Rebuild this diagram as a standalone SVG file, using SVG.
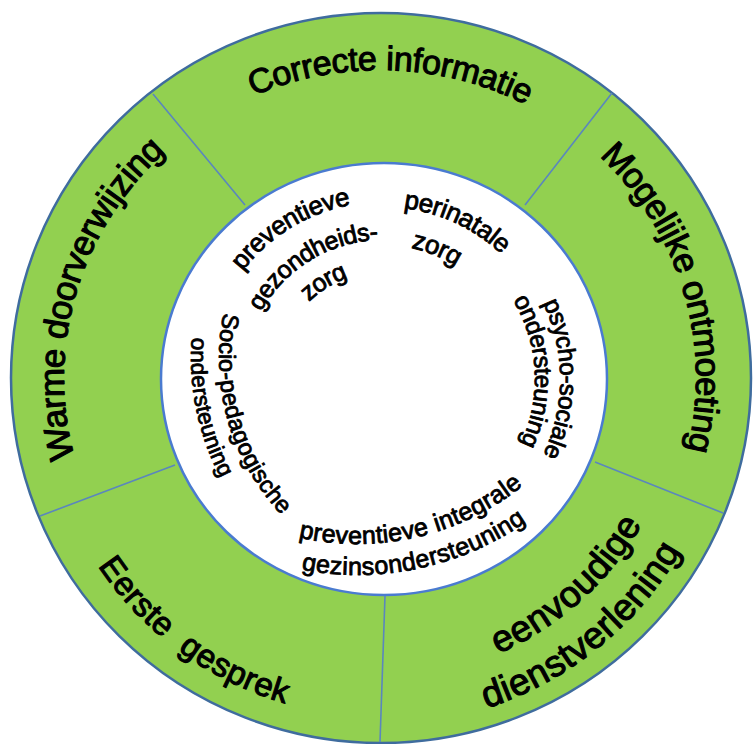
<svg xmlns="http://www.w3.org/2000/svg" xmlns:xlink="http://www.w3.org/1999/xlink" width="753" height="744" viewBox="0 0 753 744">
<style>
.lbl{font-family:"Liberation Sans",Arial,sans-serif;fill:#000;stroke:#000;stroke-width:0.85;stroke-linejoin:round;dominant-baseline:middle;}
.big{stroke-width:1.1;}
.div{stroke:#5A86BE;stroke-width:1.6;fill:none;}
</style>
<defs>
<path id="pCorrecte" d="M 78.7 259.3 A 325 317 0 0 1 689.1 280.0"/>
<path id="pMogelijke" d="M 402.7 61.8 A 325 317 0 0 1 571.0 634.5"/>
<path id="pWarme" d="M 189.0 634.5 A 325 317 0 0 1 357.3 61.8"/>
<path id="pEerste" d="M 63.3 285.4 A 330 330 0 0 0 563.1 652.6"/>
<path id="pEenv" d="M 243.8 634.0 A 290 290 0 0 0 648.9 269.4"/>
<path id="pDienst" d="M 206.4 666.9 A 337 337 0 0 0 698.6 268.3"/>
<path id="pPrev1" d="M 202.7 415.7 A 184 184 0 0 1 497.5 235.0"/>
<path id="pPrev2" d="M 239.9 408.1 A 146 146 0 0 1 473.9 264.7"/>
<path id="pPrev3" d="M 271.3 401.7 A 114 114 0 0 1 454.0 289.8"/>
<path id="pPeri1" d="M 256.9 252.0 A 179 179 0 0 1 561.3 395.2"/>
<path id="pPeri2" d="M 279.0 283.7 A 141 141 0 0 1 523.9 385.1"/>
<path id="pPsy1" d="M 445.6 207.0 A 183 183 0 0 1 445.6 551.0"/>
<path id="pPsy2" d="M 429.2 227.9 A 158 158 0 0 1 444.7 524.4"/>
<path id="pInt1" d="M 201.7 485.0 A 258 258 0 0 0 586.9 396.1"/>
<path id="pInt2" d="M 179.1 506.7 A 289 289 0 0 0 612.2 414.7"/>
<path id="pSoc1" d="M 287.3 203.8 A 222 222 0 0 0 393.3 573.4"/>
<path id="pSoc2" d="M 280.7 171.3 A 250 250 0 0 0 368.5 595.4"/>
</defs>

<g id="ring">
<ellipse cx="381" cy="378" rx="370" ry="365" fill="#92D050" stroke="#3F6C9E" stroke-width="2.5"/>
<ellipse cx="384" cy="379" rx="223" ry="216" fill="#FFFFFF" stroke="#4A7BD0" stroke-width="2.5"/>
</g>

<g id="connectors">
<line class="div" x1="153" y1="94" x2="245" y2="205"/>
<line class="div" x1="612" y1="93" x2="525" y2="205"/>
<line class="div" x1="595" y1="462" x2="723" y2="513"/>
<line class="div" x1="385" y1="596" x2="380" y2="742"/>
<line class="div" x1="175" y1="465" x2="40" y2="516"/>
</g>

<g id="correcte-informatie">
<text class="lbl big" font-size="34"><textPath xlink:href="#pCorrecte" href="#pCorrecte" startOffset="50%" text-anchor="middle">Correcte informatie</textPath></text>
</g>
<g id="mogelijke-ontmoeting">
<text class="lbl big" font-size="35"><textPath xlink:href="#pMogelijke" href="#pMogelijke" startOffset="50%" text-anchor="middle">Mogelijke ontmoeting</textPath></text>
</g>
<g id="warme-doorverwijzing">
<text class="lbl big" font-size="35"><textPath xlink:href="#pWarme" href="#pWarme" startOffset="50%" text-anchor="middle">Warme doorverwijzing</textPath></text>
</g>
<g id="eerste-gesprek">
<text class="lbl big" font-size="33"><textPath xlink:href="#pEerste" href="#pEerste" startOffset="50%" text-anchor="middle">Eerste&#160;&#160;gesprek</textPath></text>
</g>
<g id="eenvoudige-dienstverlening">
<text class="lbl big" font-size="37"><textPath xlink:href="#pEenv" href="#pEenv" startOffset="50%" text-anchor="middle">eenvoudige</textPath></text>
<text class="lbl big" font-size="37"><textPath xlink:href="#pDienst" href="#pDienst" startOffset="50%" text-anchor="middle">dienstverlening</textPath></text>
</g>

<g id="preventieve-gezondheidszorg">
<text class="lbl" font-size="26"><textPath xlink:href="#pPrev1" href="#pPrev1" startOffset="50%" text-anchor="middle">preventieve</textPath></text>
<text class="lbl" font-size="25"><textPath xlink:href="#pPrev2" href="#pPrev2" startOffset="50%" text-anchor="middle">gezondheids-</textPath></text>
<text class="lbl" font-size="25"><textPath xlink:href="#pPrev3" href="#pPrev3" startOffset="50%" text-anchor="middle">zorg</textPath></text>
</g>
<g id="perinatale-zorg">
<text class="lbl" font-size="26"><textPath xlink:href="#pPeri1" href="#pPeri1" startOffset="50%" text-anchor="middle">perinatale</textPath></text>
<text class="lbl" font-size="26"><textPath xlink:href="#pPeri2" href="#pPeri2" startOffset="50%" text-anchor="middle">zorg</textPath></text>
</g>
<g id="psycho-sociale-ondersteuning">
<text class="lbl" font-size="24.5"><textPath xlink:href="#pPsy1" href="#pPsy1" startOffset="50%" text-anchor="middle">psycho-sociale</textPath></text>
<text class="lbl" font-size="24.5"><textPath xlink:href="#pPsy2" href="#pPsy2" startOffset="50%" text-anchor="middle">ondersteuning</textPath></text>
</g>
<g id="preventieve-integrale-gezinsondersteuning">
<text class="lbl" font-size="25"><textPath xlink:href="#pInt1" href="#pInt1" startOffset="50%" text-anchor="middle">preventieve integrale</textPath></text>
<text class="lbl" font-size="25"><textPath xlink:href="#pInt2" href="#pInt2" startOffset="50%" text-anchor="middle">gezinsondersteuning</textPath></text>
</g>
<g id="socio-pedagogische-ondersteuning">
<text class="lbl" font-size="23.5"><textPath xlink:href="#pSoc1" href="#pSoc1" startOffset="50%" text-anchor="middle">Socio-pedagogische</textPath></text>
<text class="lbl" font-size="22.5"><textPath xlink:href="#pSoc2" href="#pSoc2" startOffset="50%" text-anchor="middle">ondersteuning</textPath></text>
</g>
</svg>
